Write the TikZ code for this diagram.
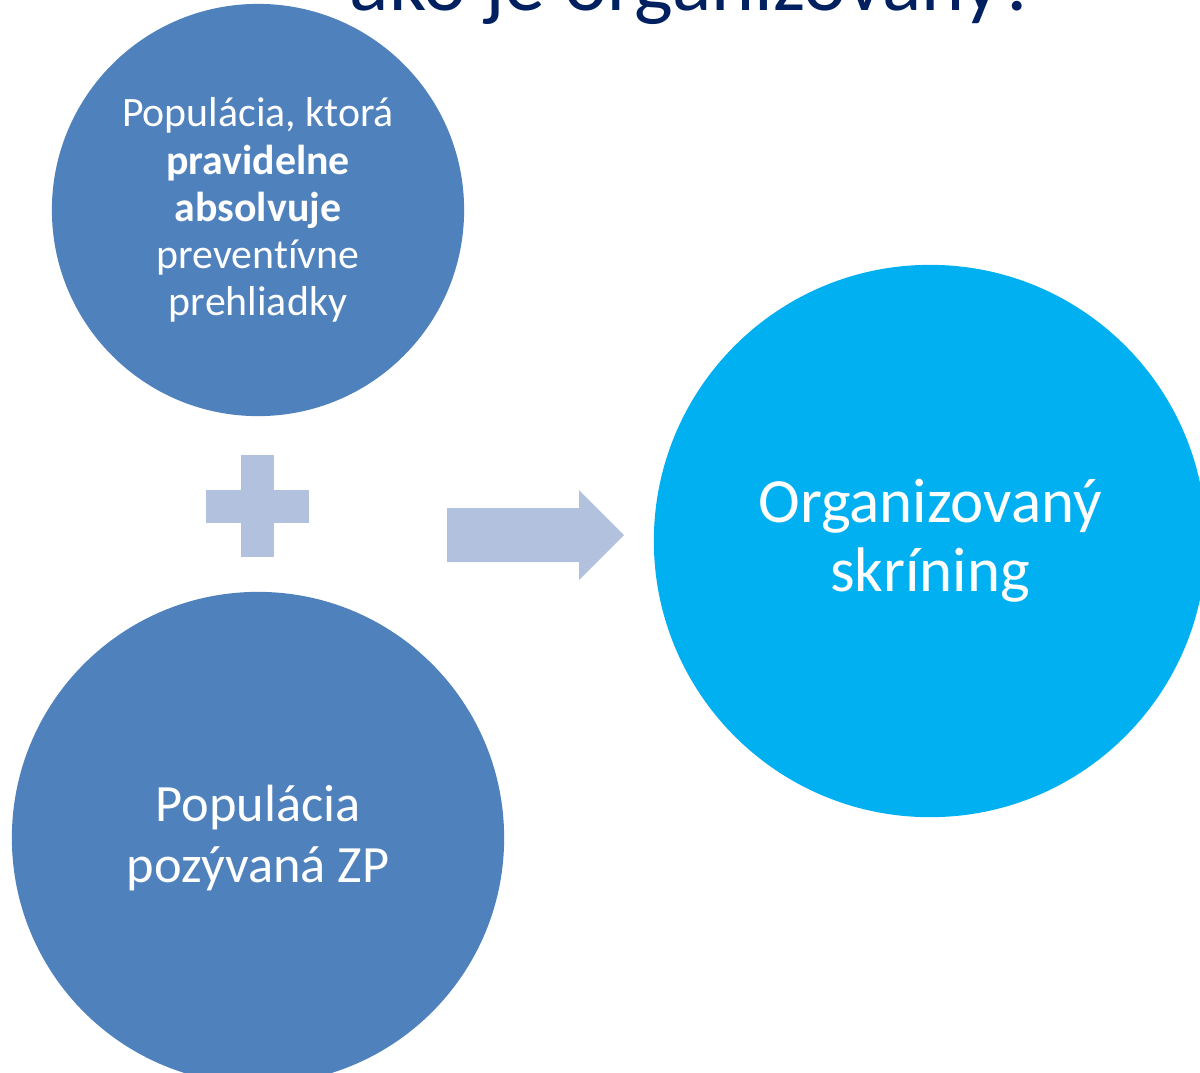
\documentclass[tikz,border=0pt]{standalone}
\usepackage{fontspec}
\setmainfont[Ligatures={NoCommon}]{Carlito}
\usetikzlibrary{calc}

\definecolor{popblue}{HTML}{4F81BD}
\definecolor{skrblue}{HTML}{00B0F0}
\definecolor{signgray}{HTML}{B2C2DE}
\definecolor{titlenavy}{HTML}{002060}

\tikzset{
  kruh/.style={circle,fill=#1,text=white,inner sep=0pt,align=center},
  znak/.style={fill=signgray,draw=none}
}

\begin{document}
\begin{tikzpicture}[x=0.01cm,y=-0.01cm]
        \useasboundingbox (0,0) rectangle (1200,1072);
        \node[text=titlenavy,anchor=base,font=\fontsize{23.3}{28}\selectfont] (nadpis) at (694,10) {ako je organizovaný?};
        \node[kruh=popblue,minimum size=4.12cm,font=\fontsize{11.9}{13.4}\selectfont] (pravidelna) at (258,210)
          {Populácia, ktorá\\\textbf{pravidelne}\\\textbf{absolvuje}\\preventívne\\prehliadky};
        \node[kruh=popblue,minimum size=4.92cm,font=\fontsize{14.9}{17.1}\selectfont] (pozyvana) at (258,838)
          {Populácia\\pozývaná ZP};
        \node[kruh=skrblue,minimum size=5.52cm,font=\fontsize{17.9}{19.6}\selectfont] (skrining) at (930,541)
          {Organizovaný\\skríning};
        \coordinate (plus) at (257.5,506);
        \fill[znak] ($(plus)+(-16.5,-51)$) rectangle ($(plus)+(16.5,51)$);
        \fill[znak] ($(plus)+(-51.5,-16.5)$) rectangle ($(plus)+(51.5,16.5)$);
        \coordinate (hrot) at (624,535);
        \fill[znak] ($(hrot)+(-177,-27)$) -- ($(hrot)+(-45,-27)$) -- ($(hrot)+(-45,-45)$) -- (hrot)
          -- ($(hrot)+(-45,45)$) -- ($(hrot)+(-45,27)$) -- ($(hrot)+(-177,27)$) -- cycle;
      \end{tikzpicture}
\end{document}
